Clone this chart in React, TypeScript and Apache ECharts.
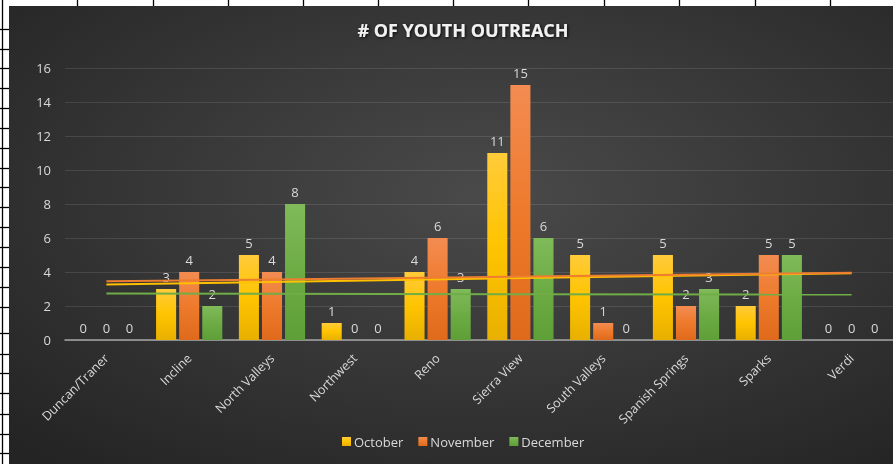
import React, { useEffect, useRef } from "react";
import * as echarts from "echarts";

const categories = [
  "Duncan/Traner",
  "Incline",
  "North Valleys",
  "Northwest",
  "Reno",
  "Sierra View",
  "South Valleys",
  "Spanish Springs",
  "Sparks",
  "Verdi",
];
const seriesNames = ["October", "November", "December"];
const october = [0, 3, 5, 1, 4, 11, 5, 5, 2, 0];
const november = [0, 4, 4, 0, 6, 15, 1, 2, 5, 0];
const december = [0, 2, 8, 0, 3, 6, 0, 3, 5, 0];
// linear trendline end points (first and last category)
const trendOctober = [3.27, 3.93];
const trendNovember = [3.45, 3.95];
const trendDecember = [2.73, 2.67];
const yMin = 0;
const yMax = 16;
const yInterval = 2;

const FONT = "'Open Sans', 'Noto Sans', sans-serif";
const LABEL = "#d9d9d9";

const sheetRowYs = [29, 49, 68, 88, 108, 128, 148, 168, 187, 207, 227, 247, 267, 287, 307, 333, 354, 373, 393, 414, 434, 453];
const sheetColXs = [77, 153, 228, 303, 378, 453, 528, 604, 679, 755, 830];

function grad(top: string, mid: string, bottom: string) {
  return new echarts.graphic.LinearGradient(0, 0, 0, 1, [
    { offset: 0, color: top },
    { offset: 0.5, color: mid },
    { offset: 1, color: bottom },
  ]);
}

export default function App() {
  const ref = useRef<HTMLDivElement>(null);
  useEffect(() => {
    if (!ref.current) return;
    const chart = echarts.init(ref.current, undefined, { renderer: "svg" });

    const colors = ["#ffc000", "#ed7d31", "#70ad47"];
    const fills = [
      grad("#ffcb3a", "#ffc400", "#e8b000"),
      grad("#f38c52", "#ee7a2c", "#e06a1c"),
      grad("#80ba5a", "#6dac45", "#5f9f37"),
    ];
    const values = [october, november, december];
    const trends = [trendOctober, trendNovember, trendDecember];

    const graphics: any[] = [
      { type: "rect", shape: { x: 0, y: 0, width: 9, height: 464 }, style: { fill: "#ffffff" }, silent: true },
      { type: "rect", shape: { x: 0, y: 0, width: 893, height: 6 }, style: { fill: "#ffffff" }, silent: true },
      { type: "line", shape: { x1: 2.5, y1: 0, x2: 2.5, y2: 464 }, style: { stroke: "#000", lineWidth: 1.3 }, silent: true },
    ];
    sheetRowYs.forEach((y) =>
      graphics.push({ type: "line", shape: { x1: 0, y1: y + 0.5, x2: 9, y2: y + 0.5 }, style: { stroke: "#000", lineWidth: 1.3 }, silent: true })
    );
    sheetColXs.forEach((x) =>
      graphics.push({ type: "line", shape: { x1: x + 0.5, y1: 0, x2: x + 0.5, y2: 6 }, style: { stroke: "#000", lineWidth: 1.3 }, silent: true })
    );

    const series: any[] = [];
    seriesNames.forEach((name, i) => {
      series.push({
        name,
        type: "bar",
        data: values[i],
        barCategoryGap: "20%",
        barGap: "15%",
        itemStyle: { color: fills[i] },
        label: {
          show: true,
          position: "top",
          distance: 6,
          color: LABEL,
          fontSize: 13,
          fontFamily: FONT,
        },
      });
    });
    seriesNames.forEach((name, i) => {
      series.push({
        name: name + " trend",
        type: "line",
        data: [
          [categories[0], trends[i][0]],
          [categories[categories.length - 1], trends[i][1]],
        ],
        showSymbol: false,
        silent: true,
        z: 5,
        lineStyle: { color: colors[i], width: 2 },
        itemStyle: { color: colors[i] },
      });
    });

    chart.setOption({
      animation: false,
      backgroundColor: new echarts.graphic.RadialGradient(0.55, 0.42, 0.75, [
        { offset: 0, color: "#4a4a4a" },
        { offset: 1, color: "#242424" },
      ]),
      color: colors,
      title: {
        text: "# OF YOUTH OUTREACH",
        left: 458,
        textAlign: "center",
        top: 16,
        textStyle: {
          color: "#f2f2f2",
          fontSize: 18,
          fontWeight: "bold",
          fontFamily: FONT,
          textShadowColor: "rgba(0,0,0,0.85)",
          textShadowBlur: 3,
          textShadowOffsetX: 1,
          textShadowOffsetY: 1,
        },
      },
      legend: {
        data: seriesNames,
        left: 342,
        top: 435,
        padding: 0,
        itemWidth: 9,
        itemHeight: 9,
        itemGap: 15,
        icon: "rect",
        textStyle: { color: LABEL, fontSize: 13, fontFamily: FONT, padding: [0, 0, 0, -2] },
      },
      grid: { left: 65, right: -4, top: 68, bottom: 124, containLabel: false },
      xAxis: {
        type: "category",
        data: categories,
        axisTick: { show: false },
        axisLine: { lineStyle: { color: "#a6a6a6", width: 1.5 } },
        axisLabel: {
          rotate: 45,
          interval: 0,
          color: LABEL,
          fontSize: 12.5,
          fontFamily: FONT,
          margin: 16,
        },
      },
      yAxis: {
        type: "value",
        min: yMin,
        max: yMax,
        interval: yInterval,
        axisLine: { show: false },
        axisTick: { show: false },
        splitLine: { lineStyle: { color: "rgba(255,255,255,0.11)", width: 1 } },
        axisLabel: { color: LABEL, fontSize: 13, fontFamily: FONT, margin: 14 },
      },
      graphic: graphics,
      series,
    });
    return () => chart.dispose();
  }, []);

  return (
    <div style={{ position: "fixed", left: 0, top: 0, width: 893, height: 464, overflow: "hidden" }}>
      <div ref={ref} style={{ width: 893, height: 464 }} />
    </div>
  );
}
